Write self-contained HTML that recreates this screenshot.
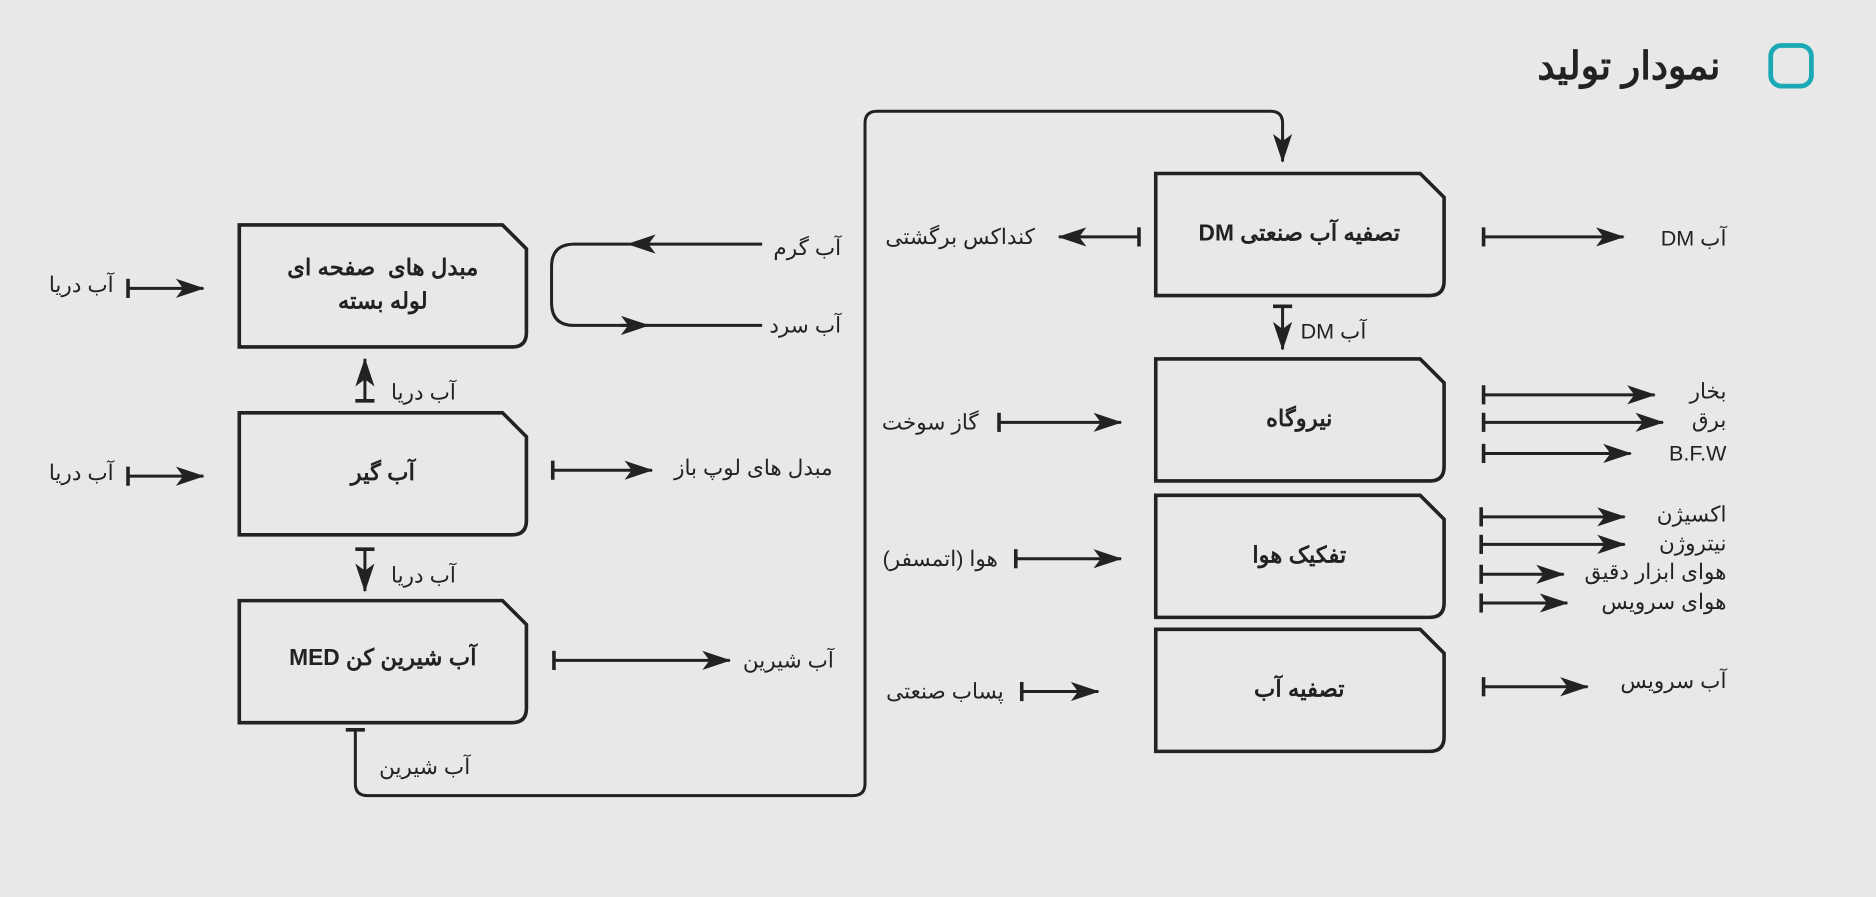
<!DOCTYPE html>
<html><head><meta charset="utf-8"><style>
html,body{margin:0;padding:0;background:#e8e8e8;width:1876px;height:897px;overflow:hidden}
#w{position:absolute;left:0;top:0;width:1568px;height:750px;transform:scale(1.19643);transform-origin:0 0;font-family:"Liberation Sans","Noto Sans CJK SC",sans-serif;color:#222}
svg{position:absolute;left:0;top:0}
.t{position:absolute;direction:rtl;white-space:nowrap;font-size:18px;line-height:22px;text-align:right}
.b{position:absolute;direction:rtl;text-align:center;font-weight:bold;font-size:19px;line-height:28px;display:flex;align-items:center;justify-content:center}
</style></head><body><div id="w">
<svg width="1568" height="750" viewBox="0 0 1568 750">
<defs>
<marker id="a" markerUnits="userSpaceOnUse" markerWidth="26" markerHeight="20" refX="23" refY="10" orient="auto"><path d="M0,2 L24,10 L0,18 L6,10 Z" fill="#222"/></marker>
<marker id="s" markerUnits="userSpaceOnUse" markerWidth="4" markerHeight="18" refX="2" refY="9" orient="auto"><rect x="0.5" y="1" width="3" height="16" fill="#222"/></marker>
</defs>
<g fill="none" stroke="#222" stroke-width="3">
<path d="M200 188H420L440 208V278Q440 290 428 290H200Z"/>
<path d="M200 345H420L440 365V435Q440 447 428 447H200Z"/>
<path d="M200 502H420L440 522V592Q440 604 428 604H200Z"/>
<path d="M966 145H1187L1207 165V235Q1207 247 1195 247H966Z"/>
<path d="M966 300H1187L1207 320V390Q1207 402 1195 402H966Z"/>
<path d="M966 414H1187L1207 434V504Q1207 516 1195 516H966Z"/>
<path d="M966 526H1187L1207 546V616Q1207 628 1195 628H966Z"/>
<rect x="1480" y="38" width="34" height="34" rx="9" stroke="#1aa9b5" stroke-width="4"/>
</g>
<g fill="none" stroke="#222" stroke-width="2.5">
<path d="M107 241H170" marker-start="url(#s)" marker-end="url(#a)"/>
<path d="M107 398H170" marker-start="url(#s)" marker-end="url(#a)"/>
<path d="M305 335V300" marker-start="url(#s)" marker-end="url(#a)"/>
<path d="M305 459V494" marker-start="url(#s)" marker-end="url(#a)"/>
<path d="M462 393H545" marker-start="url(#s)" marker-end="url(#a)"/>
<path d="M463 552H610" marker-start="url(#s)" marker-end="url(#a)"/>
<path d="M637 204H525" marker-end="url(#a)"/>
<path d="M525 204H480Q461 204 461 223V253Q461 272 480 272H540"/>
<path d="M540 272H637"/>
<path d="M518 272H542" marker-end="url(#a)"/>
<path d="M297 610V655Q297 665 307 665H713Q723 665 723 655V103Q723 93 733 93H1062Q1072 93 1072 103V135" marker-start="url(#s)" marker-end="url(#a)"/>
<path d="M952 198H885" marker-start="url(#s)" marker-end="url(#a)"/>
<path d="M1240 198H1357" marker-start="url(#s)" marker-end="url(#a)"/>
<path d="M1072 256V292" marker-start="url(#s)" marker-end="url(#a)"/>
<path d="M835 353H937" marker-start="url(#s)" marker-end="url(#a)"/>
<path d="M849 467H937" marker-start="url(#s)" marker-end="url(#a)"/>
<path d="M854 578H918" marker-start="url(#s)" marker-end="url(#a)"/>
<path d="M1240 330H1383" marker-start="url(#s)" marker-end="url(#a)"/>
<path d="M1240 353H1390" marker-start="url(#s)" marker-end="url(#a)"/>
<path d="M1240 379H1363" marker-start="url(#s)" marker-end="url(#a)"/>
<path d="M1238 432H1358" marker-start="url(#s)" marker-end="url(#a)"/>
<path d="M1238 455H1358" marker-start="url(#s)" marker-end="url(#a)"/>
<path d="M1238 480H1307" marker-start="url(#s)" marker-end="url(#a)"/>
<path d="M1238 504H1310" marker-start="url(#s)" marker-end="url(#a)"/>
<path d="M1240 574H1327" marker-start="url(#s)" marker-end="url(#a)"/>
</g>
</svg>
<div class="t" style="right:130px;top:35px;font-size:32px;line-height:40px;font-weight:bold">نمودار تولید</div>
<div class="b" style="left:200px;top:188px;width:240px;height:102px">مبدل های &nbsp;صفحه ای<br>لوله بسته</div>
<div class="b" style="left:200px;top:345px;width:240px;height:102px">آب گیر</div>
<div class="b" style="left:200px;top:502px;width:240px;height:98px">آب شیرین کن MED</div>
<div class="b" style="left:966px;top:145px;width:240px;height:102px">تصفیه آب صنعتی DM</div>
<div class="b" style="left:966px;top:300px;width:240px;height:102px">نیروگاه</div>
<div class="b" style="left:966px;top:414px;width:240px;height:102px">تفکیک هوا</div>
<div class="b" style="left:966px;top:526px;width:240px;height:102px">تصفیه آب</div>
<div class="t" style="right:1473px;top:227px">آب دریا</div>
<div class="t" style="right:1473px;top:384px">آب دریا</div>
<div class="t" style="right:1187px;top:317px">آب دریا</div>
<div class="t" style="right:1187px;top:470px">آب دریا</div>
<div class="t" style="right:1175px;top:630px">آب شیرین</div>
<div class="t" style="right:865px;top:196px">آب گرم</div>
<div class="t" style="right:865px;top:261px">آب سرد</div>
<div class="t" style="right:872px;top:380px">مبدل های لوپ باز</div>
<div class="t" style="right:871px;top:541px">آب شیرین</div>
<div class="t" style="right:703px;top:187px">کنداکس برگشتی</div>
<div class="t" style="right:750px;top:342px">گاز سوخت</div>
<div class="t" style="right:734px;top:456px">هوا (اتمسفر)</div>
<div class="t" style="right:729px;top:567px">پساب صنعتی</div>
<div class="t" style="right:426px;top:266px">آب DM</div>
<div class="t" style="right:125px;top:188px">آب DM</div>
<div class="t" style="right:125px;top:316px">بخار</div>
<div class="t" style="right:125px;top:340px">برق</div>
<div class="t" style="right:125px;top:368px">B.F.W</div>
<div class="t" style="right:125px;top:419px">اکسیژن</div>
<div class="t" style="right:125px;top:443px">نیتروژن</div>
<div class="t" style="right:125px;top:467px">هوای ابزار دقیق</div>
<div class="t" style="right:125px;top:492px">هوای سرویس</div>
<div class="t" style="right:125px;top:558px">آب سرویس</div>
</div></body></html>
